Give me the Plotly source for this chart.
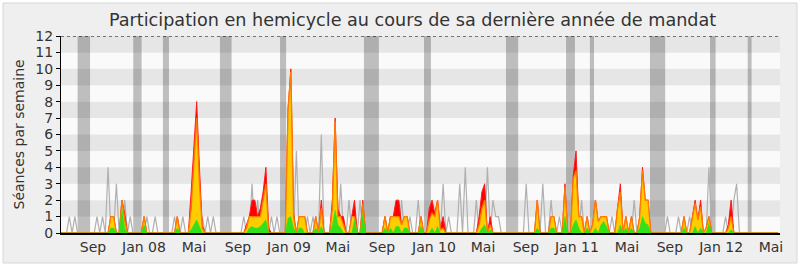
import plotly.graph_objects as go

N_WEEKS = 260

# weekly series (week index -> value), zero elsewhere
presences = {18: 1, 19: 1, 22: 2, 23: 1.2, 30: 1, 42: 1,
             47: 2.5, 48: 5, 49: 8, 50: 4, 51: 0.5,
             67: 0.5, 68: 1, 69: 2, 70: 2, 71: 1, 72: 1.5, 73: 2.5, 74: 4, 75: 0.3,
             82: 7.5, 83: 10, 84: 1.2, 86: 1, 87: 1, 88: 1, 92: 1, 94: 2,
             98: 2, 99: 7, 100: 1.5, 101: 1, 102: 1, 105: 1, 106: 2, 109: 2,
             117: 1, 119: 1, 120: 1, 121: 2, 122: 2, 123: 0.5, 124: 1, 125: 1, 130: 1,
             133: 1.5, 134: 2, 135: 1.2, 136: 2, 137: 0.3, 138: 1,
             151: 1, 152: 2.5, 153: 3, 155: 1, 172: 2, 177: 1, 178: 1, 182: 3,
             185: 3.5, 186: 5, 187: 1, 188: 1, 190: 1, 192: 0.5, 193: 2,
             194: 0.7, 195: 1, 196: 1, 197: 1, 201: 1.5, 202: 3, 204: 1, 206: 1,
             209: 1, 210: 4, 211: 2, 212: 2, 225: 1, 228: 1, 229: 2, 230: 0.8, 231: 2,
             233: 0.3, 234: 1, 241: 0.5, 242: 2}

participations = {18: 1, 19: 1, 22: 2, 23: 0.8, 30: 1, 42: 1,
                  47: 1.5, 48: 4, 49: 7, 50: 3, 51: 0.3,
                  67: 0.3, 68: 1, 69: 1, 70: 1, 71: 1, 72: 1, 73: 2, 74: 3,
                  82: 7.5, 83: 9.8, 84: 1, 86: 1, 87: 1, 88: 1, 92: 1, 94: 1.5,
                  98: 1.5, 99: 6.8, 100: 1, 101: 1, 102: 0.5, 105: 1, 106: 1, 109: 1.8,
                  117: 1, 119: 1, 120: 1, 121: 1, 122: 1, 123: 0.5, 124: 1, 125: 1, 130: 1,
                  133: 0.8, 134: 1.2, 135: 1, 136: 2, 137: 0.2, 138: 0.3,
                  151: 0.5, 152: 1.5, 153: 2, 155: 0.5, 172: 2, 177: 1, 178: 1, 182: 2.8,
                  185: 3.3, 186: 3.8, 187: 1, 188: 1, 190: 1, 192: 0.5, 193: 2,
                  194: 0.7, 195: 1, 196: 1, 197: 1, 201: 1.5, 202: 2.5, 204: 1, 206: 1,
                  209: 1, 210: 3.8, 211: 2, 212: 2, 225: 1, 228: 1, 229: 1.8, 230: 0.8,
                  231: 1.6, 233: 0.3, 234: 1, 241: 0.3, 242: 1}

interventions = {18: 0.3, 19: 0.3, 22: 1.5, 23: 0.3, 30: 0.5, 42: 0.3,
                 47: 0.2, 48: 0.5, 49: 0.8, 50: 0.4,
                 68: 0.3, 69: 0.4, 70: 0.3, 71: 0.3, 72: 0.4, 73: 0.6, 74: 0.8,
                 82: 0.9, 83: 1.0, 84: 0.3, 86: 0.3, 87: 0.3, 92: 0.3, 94: 0.4,
                 98: 0.5, 99: 1.4, 100: 0.5, 101: 0.3, 106: 0.8, 109: 1.2,
                 117: 0.3, 119: 0.3, 121: 0.4, 122: 0.4, 124: 0.3, 125: 0.3, 130: 0.4,
                 134: 0.3, 136: 0.4, 152: 0.3, 153: 0.5, 155: 0.2, 172: 0.3,
                 177: 0.3, 178: 0.3, 182: 1.0, 185: 0.5, 186: 0.8, 187: 0.3, 190: 0.3,
                 193: 0.3, 195: 0.5, 196: 0.7, 197: 0.4, 202: 0.5, 204: 0.3, 206: 0.3,
                 209: 0.3, 210: 1.0, 211: 0.6, 212: 0.5, 225: 0.3, 229: 0.4, 231: 0.3,
                 234: 0.6, 242: 0.2}

mediane = {3: 1, 5: 1, 13: 1, 15: 1, 17: 4, 20: 3, 23: 2, 25: 1, 31: 1, 34: 1,
           41: 1, 44: 1, 51: 1, 53: 1, 55: 1, 66: 1, 69: 3, 71: 2, 76: 1, 78: 1,
           85: 5, 89: 1, 91: 1, 94: 6, 101: 3, 104: 2, 108: 2,
           117: 1, 119: 1, 123: 2, 126: 1, 129: 2, 138: 3, 140: 1, 144: 3, 146: 4,
           150: 2, 154: 4, 156: 2, 157: 1, 158: 1, 168: 3, 174: 3, 177: 2, 180: 1,
           188: 2, 193: 2, 199: 1, 207: 2, 219: 1, 223: 1, 227: 1, 234: 4,
           240: 1, 243: 2, 244: 3}

# parliamentary breaks (week index start, end)
vacances_debut = [6.0, 26.1, 36.8, 57.4, 79.1, 109.4, 131.1, 160.7, 182.4, 191.0, 212.7, 234.4, 248.0]
vacances_fin = [10.5, 29.1, 39.0, 61.6, 81.3, 114.8, 133.6, 165.1, 185.6, 192.5, 218.2, 236.4, 249.4]

tick_pos = [11.56, 29.97, 48.03, 63.92, 82.34, 100.0, 115.9, 134.7, 152.4, 167.9,
            186.3, 204.4, 219.9, 238.4, 256.4]
tick_labels = ["Sep", "Jan 08", "Mai", "Sep", "Jan 09", "Mai", "Sep", "Jan 10", "Mai",
               "Sep", "Jan 11", "Mai", "Sep", "Jan 12", "Mai"]

weeks = list(range(N_WEEKS))


def expand(d):
    return [d.get(i, 0) for i in weeks]


fig = go.Figure()
fig.add_trace(go.Scatter(x=weeks, y=expand(mediane), mode="lines",
                         line=dict(color="#b0b0b0", width=1.2), hoverinfo="skip"))
fig.add_trace(go.Scatter(x=weeks, y=expand(presences), mode="lines", fill="tozeroy",
                         fillcolor="#ff0000", line=dict(color="#ff1a1a", width=1), hoverinfo="skip"))
fig.add_trace(go.Scatter(x=weeks, y=expand(participations), mode="lines", fill="tozeroy",
                         fillcolor="#ffcc00", line=dict(color="#ff7a00", width=1.3), hoverinfo="skip"))
fig.add_trace(go.Scatter(x=weeks, y=expand(interventions), mode="lines", fill="tozeroy",
                         fillcolor="#33e01a", line=dict(color="#33e01a", width=0.5), hoverinfo="skip"))

L, R_, T, B = 61, 20, 36, 34
W, H = 800, 267
pw, ph = W - L - R_, H - T - B

shapes = []
# outer rounded box
bx0, bx1 = (3 - L) / pw, (797 - L) / pw
by0, by1 = (H - B - 263) / ph, (H - B - 3) / ph
shapes.append(dict(type="rect", xref="paper", yref="paper", x0=bx0, x1=bx1, y0=by0, y1=by1,
                   fillcolor="#efefef", line=dict(color="#d6d6d6", width=1), layer="below"))
# horizontal bands
for k in range(12):
    shapes.append(dict(type="rect", xref="paper", yref="y", x0=0, x1=1, y0=k, y1=k + 1,
                       fillcolor="#e6e6e6" if k % 2 == 1 else "#fafafa",
                       line=dict(width=0), layer="below"))
# vacation bars
for a, b in zip(vacances_debut, vacances_fin):
    shapes.append(dict(type="rect", xref="x", yref="paper", x0=a, x1=b, y0=0, y1=1,
                       fillcolor="rgba(0,0,0,0.24)", line=dict(width=0), layer="below"))
# dotted top line
shapes.append(dict(type="line", xref="paper", yref="y", x0=0, x1=1, y0=12, y1=12,
                   line=dict(color="#000000", width=1.2, dash="dot")))

font = "DejaVu Sans"
fig.update_layout(
    width=W, height=H,
    margin=dict(l=L, r=R_, t=T, b=B, pad=0),
    paper_bgcolor="#ffffff", plot_bgcolor="rgba(0,0,0,0)",
    showlegend=False,
    shapes=shapes,
    font=dict(family=font, color="#333333", size=14),
    xaxis=dict(range=[0, pw / 2.769], showgrid=False, zeroline=False,
               tickmode="array", tickvals=tick_pos, ticktext=tick_labels,
               ticks="", showline=True, linecolor="#000000", linewidth=2,
               tickfont=dict(size=14, color="#333333", family=font)),
    yaxis=dict(range=[0, 12], dtick=1, showgrid=False, zeroline=False,
               showline=True, linecolor="#000000", linewidth=1,
               ticks="outside", ticklen=4, tickcolor="#000000",
               tickfont=dict(size=14, color="#333333", family=font)),
    annotations=[
        dict(text="Participation en hemicycle au cours de sa dernière année de mandat",
             xref="paper", yref="paper", x=(412 - L) / pw, y=(H - B - 20) / ph,
             xanchor="center", yanchor="middle", showarrow=False,
             font=dict(size=17.6, color="#333333", family=font)),
        dict(text="Séances par semaine", xref="paper", yref="paper",
             x=(18 - L) / pw, y=0.5, textangle=-90, xanchor="center", yanchor="middle",
             showarrow=False, font=dict(size=14, color="#333333", family=font)),
    ],
)

fig.write_html("out.html")
